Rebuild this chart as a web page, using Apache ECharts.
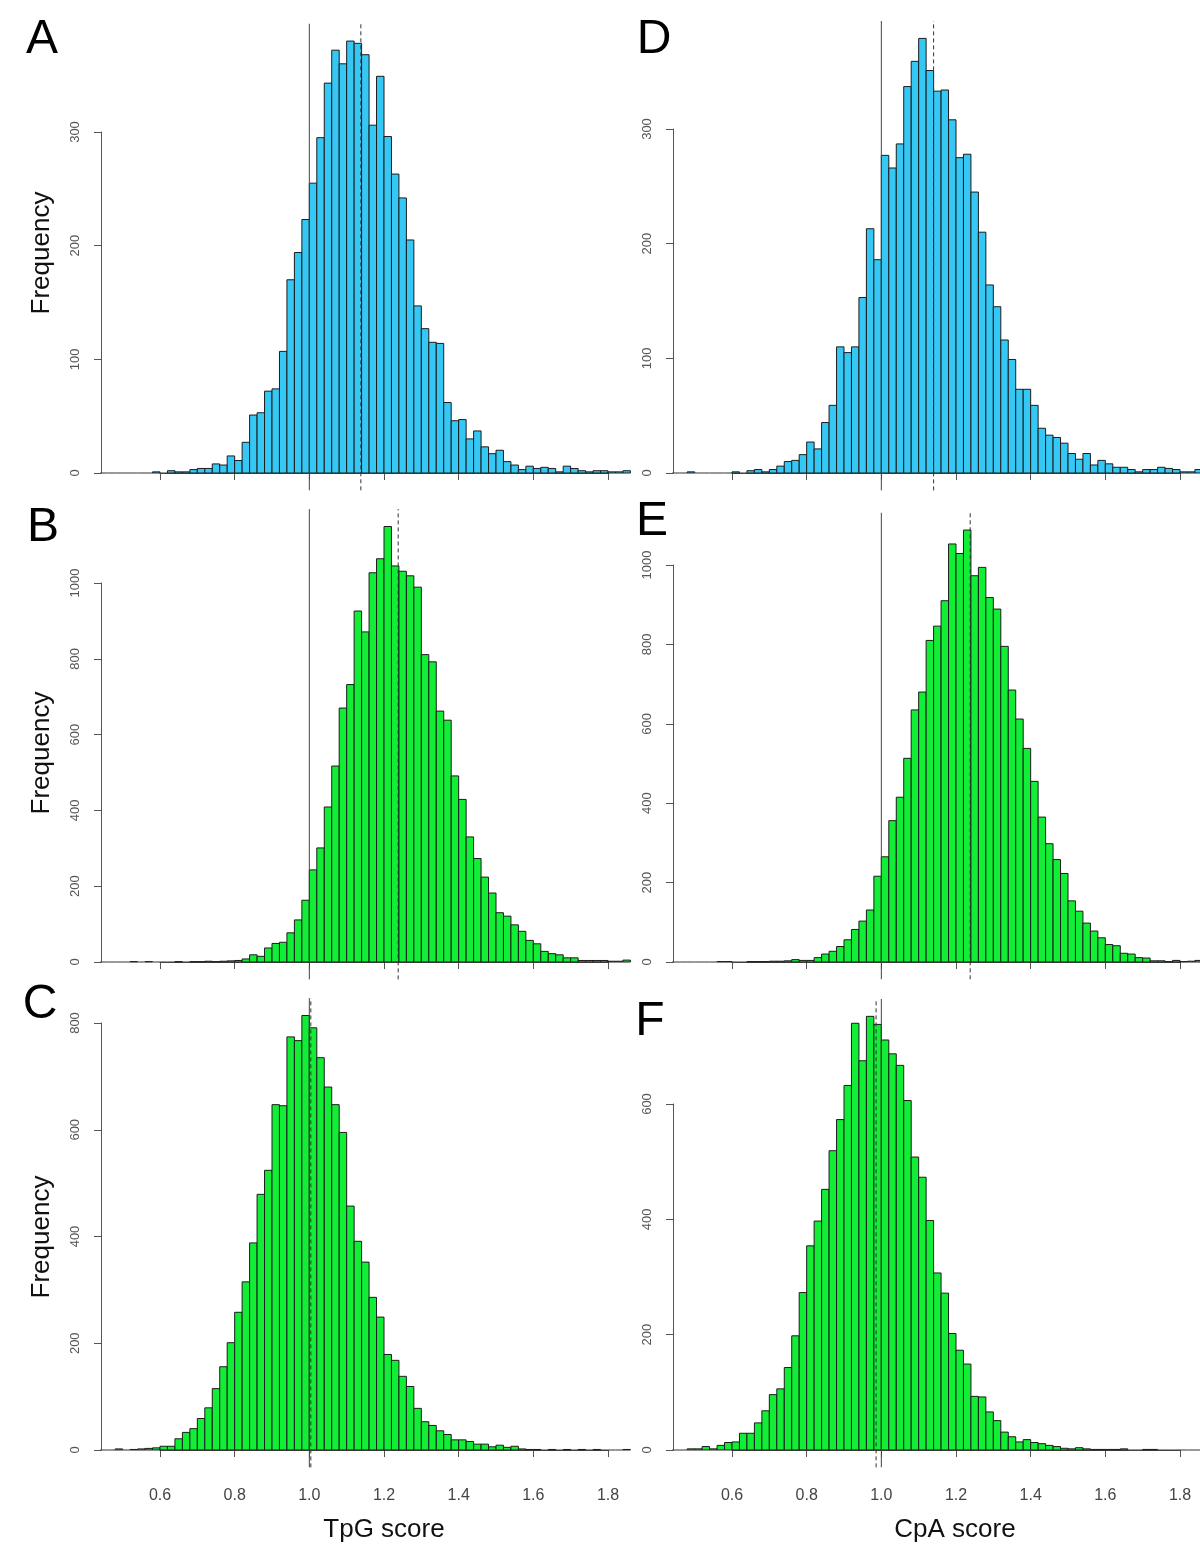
<!DOCTYPE html>
<html><head><meta charset="utf-8">
<script src="https://cdn.jsdelivr.net/npm/echarts@6/dist/echarts.min.js"></script>
<style>html,body{margin:0;padding:0;background:#fff}#c{width:1200px;height:1555px}</style>
</head><body><div id="c"></div>
<script>
// ---- DATA ----
const binStart = 0.44;
const binWidth = 0.02;
const xTicks = [0.6, 0.8, 1.0, 1.2, 1.4, 1.6, 1.8];
const panelLetters = ['A', 'B', 'C', 'D', 'E', 'F'];
const xTitles = ['TpG score', 'CpA score'];
const yTitle = 'Frequency';
const refLine = 1.0;

const countsA = [0,0,0,0,0,0,0,1,0,2,1,1,3,4,4,8,7,15,11,27,51,53,72,74,107,170,194,223,255,295,343,372,360,380,378,368,306,349,296,263,242,205,147,127,115,114,62,46,47,30,37,23,17,20,10,7,3,6,4,5,4,1,6,4,2,1,2,2,1,1,2];
const countsB = [0,0,0,0,1,0,1,0,0,0,1,0,1,1,2,1,2,3,4,8,19,15,37,49,52,77,111,163,243,301,409,517,670,732,926,871,1027,1064,1149,1045,1031,1019,989,811,792,662,638,491,429,330,273,224,182,130,121,98,81,57,48,28,22,19,11,11,4,4,4,4,2,2,5];
const countsC = [0,0,2,0,1,2,3,4,7,7,21,33,40,59,79,115,156,201,258,315,388,479,524,647,645,774,767,814,791,735,680,647,595,457,391,352,286,249,179,168,138,119,78,53,46,36,29,19,19,16,11,11,6,9,5,7,2,1,1,0,1,0,1,0,1,0,1,0,0,0,1];
const countsD = [0,0,1,0,0,0,0,0,1,0,2,3,1,3,6,10,11,16,27,21,44,59,110,105,110,153,213,186,277,266,287,337,359,379,351,333,334,308,275,278,245,210,164,145,116,99,73,73,59,39,33,31,26,17,12,17,7,11,8,5,5,3,1,3,3,5,4,3,1,1,3];
const countsE = [0,0,0,0,0,0,1,1,0,0,1,1,1,2,2,3,6,4,4,11,20,27,39,56,82,103,131,216,265,356,415,513,635,680,810,846,910,1053,1029,1088,973,994,918,889,795,685,612,538,455,365,298,258,223,154,128,98,78,61,44,41,22,20,11,10,3,3,1,4,1,2,4];
const countsF = [0,0,2,2,6,2,8,13,14,29,29,47,68,96,106,143,198,273,354,397,452,519,573,632,740,675,752,738,711,687,667,606,508,473,398,307,272,202,173,149,93,92,66,51,31,23,14,18,13,11,8,6,3,2,4,2,1,1,1,1,2,0,0,1,1,0,0,0,0,0,0];
const meanA = 1.138, meanB = 1.238, meanC = 1.004, meanD = 1.140, meanE = 1.238, meanF = 0.986;

// ---- LAYOUT / STYLE ----
const BLUE = '#35C8F5', GREEN = '#12EE36';
const FONT = 'Liberation Sans, Arial, sans-serif';
const panels = [
  {counts: countsA, mean: meanA, color: BLUE,  left: 160, top: 132,  height: 341, ymax: 300,  yint: 100, xlab: false},
  {counts: countsB, mean: meanB, color: GREEN, left: 160, top: 583,  height: 379, ymax: 1000, yint: 200, xlab: false},
  {counts: countsC, mean: meanC, color: GREEN, left: 160, top: 1023, height: 427, ymax: 800,  yint: 200, xlab: true},
  {counts: countsD, mean: meanD, color: BLUE,  left: 732, top: 129,  height: 344, ymax: 300,  yint: 100, xlab: false},
  {counts: countsE, mean: meanE, color: GREEN, left: 732, top: 565,  height: 397, ymax: 1000, yint: 200, xlab: false},
  {counts: countsF, mean: meanF, color: GREEN, left: 732, top: 1104, height: 346, ymax: 600,  yint: 200, xlab: true}
];
const letterPos = [[42,40],[43,528],[40,1005],[654,40],[652,522],[650,1022]];
const freqPos = [[42,253],[42,753],[42,1237]];
const xTitlePos = [[384,1530],[955,1530]];

const grids = [], xAxes = [], yAxes = [], series = [];
panels.forEach((p, i) => {
  grids.push({left: p.left, top: p.top, width: 448, height: p.height});
  xAxes.push({
    type: 'value', gridIndex: i, min: xTicks[0], max: xTicks[xTicks.length-1], interval: 0.2,
    offset: 18, position: 'bottom',
    axisLine: {show: true, lineStyle: {color: '#555', width: 1}},
    axisTick: {show: true, length: 7, lineStyle: {color: '#555'}},
    axisLabel: {show: p.xlab, margin: 20, fontSize: 16, color: '#444', fontFamily: FONT,
      formatter: v => v.toFixed(1)},
    splitLine: {show: false}
  });
  yAxes.push({
    type: 'value', gridIndex: i, min: 0, max: p.ymax, interval: p.yint,
    offset: 59, position: 'left',
    axisLine: {show: true, lineStyle: {color: '#555', width: 1}},
    axisTick: {show: true, length: 7, lineStyle: {color: '#555'}},
    axisLabel: {show: true, rotate: 90, margin: 19, fontSize: 13, color: '#555', fontFamily: FONT,
      formatter: v => String(v)},
    splitLine: {show: false}
  });
  const data = p.counts.map((c, k) => [binStart + k*binWidth, binStart + (k+1)*binWidth, c]);
  series.push({
    type: 'custom', xAxisIndex: i, yAxisIndex: i, clip: false, silent: true,
    encode: {x: [0, 1], y: 2},
    data: data,
    renderItem: (params, api) => {
      const x0 = api.value(0), x1 = api.value(1), c = api.value(2);
      const a = api.coord([x0, 0]), b = api.coord([x1, c]);
      if (c === 0) {
        return {type: 'line', shape: {x1: a[0], y1: a[1], x2: b[0], y2: a[1]},
          style: {stroke: '#333', lineWidth: 1}};
      }
      return {type: 'rect', shape: {x: a[0], y: b[1], width: b[0]-a[0], height: a[1]-b[1]},
        style: {fill: p.color, stroke: '#1c1c1c', lineWidth: 1}};
    }
  });
  const maxC = Math.max(...p.counts);
  series.push({
    type: 'custom', xAxisIndex: i, yAxisIndex: i, clip: false, silent: true, z: 5,
    encode: {x: 0},
    data: [[refLine, 0], [p.mean, 1]],
    renderItem: (params, api) => {
      const x = api.value(0), dashed = api.value(1) === 1;
      const lo = api.coord([x, -0.04*maxC]), hi = api.coord([x, 1.04*maxC]);
      return {type: 'line', shape: {x1: lo[0], y1: lo[1], x2: hi[0], y2: hi[1]},
        style: {stroke: dashed ? '#333' : '#444', lineWidth: 1, lineDash: dashed ? [4, 3] : null}};
    }
  });
});

const graphic = [];
panelLetters.forEach((t, i) => graphic.push({type: 'text', x: letterPos[i][0], y: letterPos[i][1],
  style: {text: t, font: '48px ' + FONT, fill: '#000', textAlign: 'center', textVerticalAlign: 'middle'}}));
freqPos.forEach(pp => graphic.push({type: 'text', x: pp[0], y: pp[1], rotation: Math.PI/2,
  style: {text: yTitle, font: '26px ' + FONT, fill: '#111', textAlign: 'center', textVerticalAlign: 'middle'}}));
xTitles.forEach((t, i) => graphic.push({type: 'text', x: xTitlePos[i][0], y: xTitlePos[i][1],
  style: {text: t, font: '26px ' + FONT, fill: '#111', textAlign: 'center', textVerticalAlign: 'middle'}}));

const chart = echarts.init(document.getElementById('c'), null, {renderer: 'canvas'});
chart.setOption({
  animation: false,
  backgroundColor: '#fff',
  grid: grids, xAxis: xAxes, yAxis: yAxes, series: series, graphic: graphic
});
</script></body></html>
